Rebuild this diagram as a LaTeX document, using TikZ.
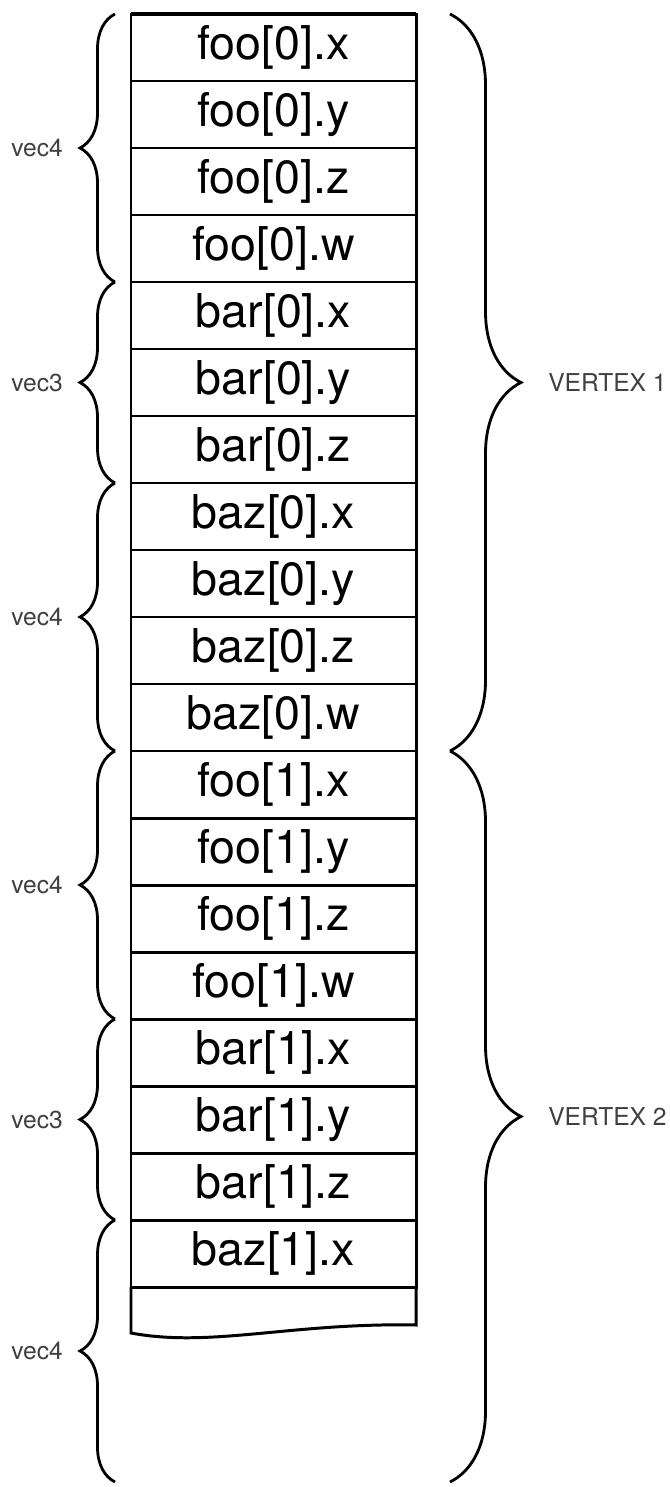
\documentclass[tikz,border=0pt]{standalone}
\usepackage{fontspec}
\setmainfont{TeX Gyre Heros}
\usetikzlibrary{calc}
\usetikzlibrary{positioning}
\usetikzlibrary{chains,decorations.pathreplacing}
\tikzset{
  cell/.style={draw, line width=1.7pt, minimum width=5.7cm, minimum height=1.34cm, inner sep=0pt, outer sep=0pt, font=\fontsize{26.5}{30}\selectfont},
  lbrace/.style={decorate, decoration={brace, amplitude=0.7cm}, line width=1.6pt},
  rbrace/.style={decorate, decoration={brace, amplitude=1.42cm}, line width=1.6pt},
  tag/.style={font=\fontsize{14}{16}\selectfont, text=black!75},
}
\begin{document}
\begin{tikzpicture}
  \useasboundingbox (0,0) rectangle (13.4,-29.74);

  \begin{scope}[start chain=going below, node distance=0pt]
    \node [cell, on chain] (cell0) at (5.47,-0.95) {foo[0].x};
    \foreach \t [count=\i from 1] in {foo[0].y,foo[0].z,foo[0].w,bar[0].x,bar[0].y,bar[0].z,baz[0].x,baz[0].y,baz[0].z,baz[0].w,foo[1].x,foo[1].y,foo[1].z,foo[1].w,bar[1].x,bar[1].y,bar[1].z,baz[1].x} {
      \node [cell, on chain] (cell\i) {\t};
    }
  \end{scope}
  \draw [line width=2.6pt] (cell0.north west) -- (cell0.north east);

  % torn-off last row
  \coordinate (cutL) at ($(cell18.south west)+(0,-0.92)$);
  \coordinate (cutR) at ($(cell18.south east)+(0,-0.76)$);
  \draw [line width=1.7pt] (cell18.south west) -- (cutL) .. controls +(1.6,-0.3) and +(-2.5,0.05) .. (cutR) -- (cell18.south east);

  \coordinate (tailL) at ($(cell18.south west)+(-0.32,-3.9)$);
  \coordinate (tailR) at ($(cell18.south east)+(0.68,-3.9)$);

  % vector braces
  \foreach \a/\b/\t in {3/0/vec4, 6/4/vec3, 10/7/vec4, 14/11/vec4, 17/15/vec3} {
    \draw [lbrace] ([xshift=-0.32cm]cell\a.south west) -- ([xshift=-0.32cm]cell\b.north west) node [tag, midway, xshift=-0.9cm, anchor=east] (vec\b) {\t};
  }
  \draw [lbrace] (tailL) -- ([xshift=-0.32cm]cell18.north west) node [tag, midway, xshift=-0.9cm, anchor=east] (vec18) {vec4};

  % vertex braces
  \draw [rbrace] ([xshift=0.68cm]cell0.north east) -- ([xshift=0.68cm]cell10.south east) node [tag, midway, xshift=1.82cm, anchor=west] (vtx1) {VERTEX 1};
  \draw [rbrace] ([xshift=0.68cm]cell11.north east) -- (tailR) node [tag, midway, xshift=1.82cm, anchor=west] (vtx2) {VERTEX 2};
\end{tikzpicture}
\end{document}
